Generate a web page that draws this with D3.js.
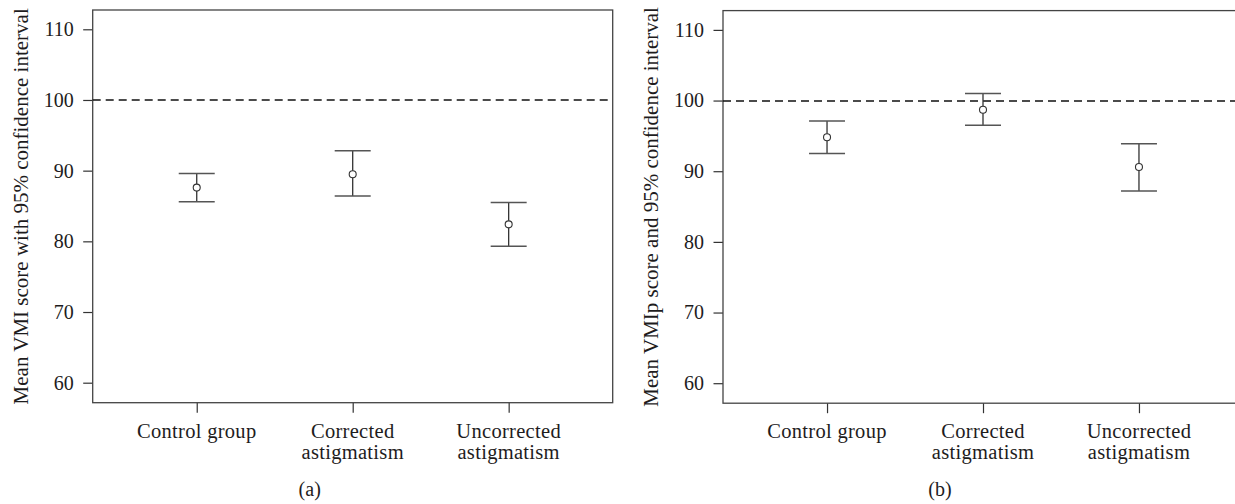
<!DOCTYPE html>
<html>
<head>
<meta charset="utf-8">
<script src="https://cdn.jsdelivr.net/npm/d3@7"></script>
<style>
  body { margin: 0; background: #fff; }
  svg { display: block; }
  text { font-family: "Liberation Serif", "Times New Roman", serif; fill: #1e1c1d; }
</style>
</head>
<body>
<div id="chart"></div>
<script>
// groups on the x axis, one array of lines per label
var categories = ["Control group", "Corrected astigmatism", "Uncorrected astigmatism"];
var categoryLines = [["Control group"], ["Corrected", "astigmatism"], ["Uncorrected", "astigmatism"]];

// panel (a): VMI
var vmiMean = [87.6, 89.5, 82.4];
var vmiLow  = [85.6, 86.4, 79.3];
var vmiHigh = [89.6, 92.8, 85.5];

// panel (b): VMIp
var vmipMean = [94.8, 98.7, 90.6];
var vmipLow  = [92.5, 96.5, 87.2];
var vmipHigh = [97.1, 101.0, 93.9];

var yTicks = [60, 70, 80, 90, 100, 110];
var yDomain = [57.17, 112.73];
var refValue = 100;

var svgWidth = 1235, svgHeight = 504;
var panelWidth = 520;

var svg = d3.select("#chart").append("svg")
   .attr("width", svgWidth)
   .attr("height", svgHeight);

var panels = [
   { left: 92.7, top: 10, bottom: 402.7, mean: vmiMean, low: vmiLow, high: vmiHigh,
     ylabel: "Mean VMI score with 95% confidence interval", tag: "(a)" },
   { left: 723, top: 10.6, bottom: 403.2, mean: vmipMean, low: vmipLow, high: vmipHigh,
     ylabel: "Mean VMIp score and 95% confidence interval", tag: "(b)" }
];

panels.forEach(function(p) {
   var h = p.bottom - p.top;
   var g = svg.append("g").attr("transform", `translate(${p.left}, ${p.top})`);

   var x = d3.scalePoint().domain(categories).range([0, panelWidth]).padding(0.667);
   var y = d3.scaleLinear().domain(yDomain).range([h, 0]);

   // left axis
   var leftAxis = d3.axisLeft(y).tickValues(yTicks).tickSize(9.5).tickPadding(9.5);
   var ya = g.append("g").call(leftAxis);
   ya.select(".domain").remove();
   ya.selectAll("line").attr("stroke", "#333").attr("stroke-width", 1.2);
   ya.selectAll("text").style("font-size", "20px").attr("fill", "#1e1c1d")
     .style("font-family", "Liberation Serif, serif");

   // bottom axis (ticks only, labels drawn as multi-line text)
   var bottomAxis = d3.axisBottom(x).tickSize(10).tickFormat("");
   var xa = g.append("g").attr("transform", `translate(0, ${h})`).call(bottomAxis);
   xa.select(".domain").remove();
   xa.selectAll("line").attr("stroke", "#333").attr("stroke-width", 1.2);

   categories.forEach(function(c, i) {
      var t = g.append("text")
         .attr("x", x(c))
         .attr("y", h + 35)
         .attr("text-anchor", "middle")
         .style("font-size", "20.5px")
         .style("letter-spacing", "0.3px");
      categoryLines[i].forEach(function(line, j) {
         t.append("tspan").attr("x", x(c)).attr("dy", j === 0 ? 0 : 21).text(line);
      });
   });

   // frame
   g.append("rect")
      .attr("x", 0).attr("y", 0)
      .attr("width", panelWidth).attr("height", h)
      .attr("fill", "none")
      .attr("stroke", "#444")
      .attr("stroke-width", 1.3);

   // reference line at 100
   var yRef = Math.round(y(refValue) + p.top) - p.top;
   g.append("line")
      .attr("x1", 0).attr("x2", panelWidth)
      .attr("y1", yRef).attr("y2", yRef)
      .attr("stroke", "#111")
      .attr("stroke-width", 1.3)
      .attr("stroke-dasharray", "8,5");

   // error bars
   var bars = g.selectAll(".bar").data(categories).enter().append("g").attr("class", "bar");
   bars.append("line")
      .attr("x1", d => x(d)).attr("x2", d => x(d))
      .attr("y1", (d, i) => y(p.high[i])).attr("y2", (d, i) => y(p.low[i]))
      .attr("stroke", "#333").attr("stroke-width", 1.3);
   bars.append("line")
      .attr("x1", d => x(d) - 18).attr("x2", d => x(d) + 18)
      .attr("y1", (d, i) => y(p.high[i])).attr("y2", (d, i) => y(p.high[i]))
      .attr("stroke", "#555").attr("stroke-width", 1.5);
   bars.append("line")
      .attr("x1", d => x(d) - 18).attr("x2", d => x(d) + 18)
      .attr("y1", (d, i) => y(p.low[i])).attr("y2", (d, i) => y(p.low[i]))
      .attr("stroke", "#555").attr("stroke-width", 1.5);
   bars.append("circle")
      .attr("cx", d => x(d))
      .attr("cy", (d, i) => y(p.mean[i]))
      .attr("r", 3.5)
      .attr("fill", "#fff")
      .attr("stroke", "#333")
      .attr("stroke-width", 1.1);

   // y axis title
   svg.append("text")
      .attr("transform", `translate(${p.left - 65}, ${(p.top + p.bottom) / 2}) rotate(-90)`)
      .attr("text-anchor", "middle")
      .style("font-size", "21px")
      .text(p.ylabel);

   // panel tag
   svg.append("text")
      .attr("x", p.left + 217)
      .attr("y", 496)
      .attr("text-anchor", "middle")
      .style("font-size", "20px")
      .text(p.tag);
});
</script>
</body>
</html>
